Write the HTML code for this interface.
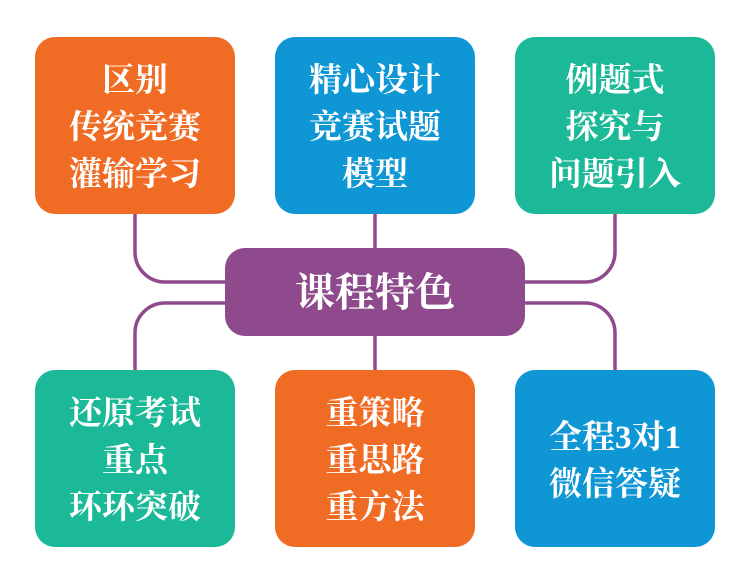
<!DOCTYPE html><html><head><meta charset="utf-8"><style>
body{margin:0;width:750px;height:588px;background:#fff;position:relative;overflow:hidden;font-family:"Liberation Serif","Noto Serif CJK SC",serif}
.b{position:absolute;width:200px;height:177px;border-radius:20px;color:#fff;font-weight:bold;font-size:33px;line-height:47px;display:flex;align-items:center;justify-content:center;text-align:center;flex-direction:column;box-sizing:border-box;padding-top:5px}
.o{background:#f06c25}.u{background:#0f96d5}.t{background:#1bb998}
svg{position:absolute;left:0;top:0}
</style></head><body>
<svg width="750" height="588"><g fill="none" stroke="#8e4a8c" stroke-width="3.5">
<path d="M135 214 V252 A30 30 0 0 0 165 282 H230"/>
<path d="M135 370 V333 A30 30 0 0 1 165 303 H230"/>
<path d="M615 214 V252 A30 30 0 0 1 585 282 H520"/>
<path d="M615 370 V333 A30 30 0 0 0 585 303 H520"/>
<path d="M375 214 V250 M375 334 V370"/></g></svg>
<div class="b o" style="left:35px;top:37px"><div>区别</div><div>传统竞赛</div><div>灌输学习</div></div>
<div class="b u" style="left:275px;top:37px"><div>精心设计</div><div>竞赛试题</div><div>模型</div></div>
<div class="b t" style="left:515px;top:37px"><div>例题式</div><div>探究与</div><div>问题引入</div></div>
<div class="b t" style="left:35px;top:370px"><div>还原考试</div><div>重点</div><div>环环突破</div></div>
<div class="b o" style="left:275px;top:370px"><div>重策略</div><div>重思路</div><div>重方法</div></div>
<div class="b u" style="left:515px;top:370px;padding-top:6px"><div>全程3对1</div><div>微信答疑</div></div>
<div class="b" style="left:225px;top:248px;width:300px;height:88px;background:#8e4a8c;font-size:40px;padding-top:0">课程特色</div>
</body></html>
